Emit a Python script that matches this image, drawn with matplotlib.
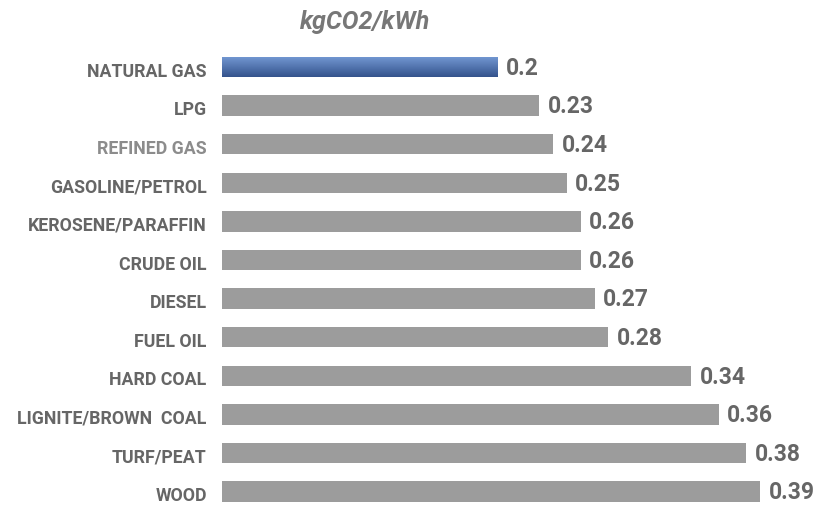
import matplotlib
matplotlib.use("Agg")
import matplotlib.pyplot as plt
import matplotlib.transforms as mtransforms
from matplotlib.colors import LinearSegmentedColormap
import numpy as np

categories = ["NATURAL GAS", "LPG", "REFINED GAS", "GASOLINE/PETROL",
              "KEROSENE/PARAFFIN", "CRUDE OIL", "DIESEL", "FUEL OIL",
              "HARD COAL", "LIGNITE/BROWN  COAL", "TURF/PEAT", "WOOD"]
values = [0.20, 0.23, 0.24, 0.25, 0.26, 0.26, 0.27, 0.28, 0.34, 0.36, 0.38, 0.39]
value_labels = ["0.2", "0.23", "0.24", "0.25", "0.26", "0.26", "0.27", "0.28",
                "0.34", "0.36", "0.38", "0.39"]
title = "kgCO2/kWh"

plt.rcParams['font.family'] = ['Roboto', 'DejaVu Sans']

W, H = 820, 509
step = 38.6
top_px = 67 - 0.6 * step
height_px = 11.9 * step
fig = plt.figure(figsize=(W / 100, H / 100), dpi=100)
ax = fig.add_axes([222 / W, (H - top_px - height_px) / H, (W - 222) / W, height_px / H])

y = np.arange(len(categories))
bars = ax.barh(y, values, height=0.53, color="#9c9c9c", zorder=2)

# gradient for the highlighted bar
b0 = bars[0]
cmap = LinearSegmentedColormap.from_list("bl", ["#7499d4", "#34538c"])
grad = np.linspace(0, 1, 100).reshape(-1, 1)
b0.set_facecolor("none")
im = ax.imshow(grad, cmap=cmap, aspect="auto", zorder=3,
               extent=[b0.get_x(), b0.get_x() + b0.get_width(),
                       b0.get_y() + b0.get_height(), b0.get_y()])
im.set_clip_path(b0)

ax.set_xlim(0, (W - 222) / 1380)
ax.set_ylim(len(categories) - 0.7, -0.6)

ax.set_yticks(y)
ax.set_yticklabels(categories, fontsize=12.8, fontweight="bold", color="#666666")
ax.tick_params(axis="y", length=0, pad=11)
ax.set_xticks([])
for lbl in ax.get_yticklabels():
    lbl.set_transform(lbl.get_transform() +
                      mtransforms.ScaledTranslation(0, -2.5 / 100, fig.dpi_scale_trans))
ax.get_yticklabels()[2].set_color("#8c8c8c")

for s in ax.spines.values():
    s.set_visible(False)

for yi, v, t in zip(y, values, value_labels):
    ax.annotate(t, xy=(v, yi), xytext=(6, -1), textcoords="offset points",
                ha="left", va="center", fontsize=16.5, fontweight="bold",
                color="#666666")

fig.text(365 / W, 1 - 22 / H, title, ha="center", va="center", fontsize=18,
         fontweight="bold", fontstyle="italic", color="#777777")

fig.savefig("out.png", dpi=100)
